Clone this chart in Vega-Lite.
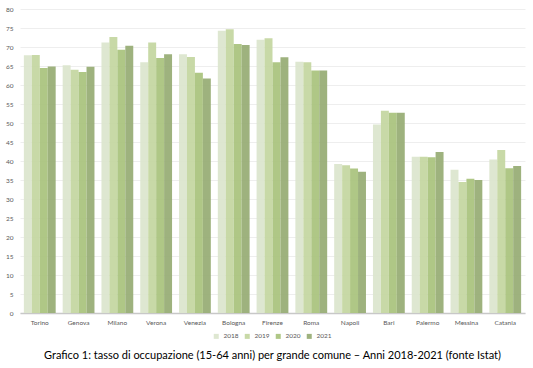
{
  "$schema": "https://vega.github.io/schema/vega-lite/v6.json",
  "width": 505,
  "height": 304,
  "autosize": {"type": "none"},
  "padding": {"left": 20, "top": 9, "right": 8, "bottom": 55},
  "background": "white",
  "data": {
    "values": [
      {"comune": "Torino", "anno": "2018", "v": 67.8}, {"comune": "Torino", "anno": "2019", "v": 67.9}, {"comune": "Torino", "anno": "2020", "v": 64.5}, {"comune": "Torino", "anno": "2021", "v": 64.9},
      {"comune": "Genova", "anno": "2018", "v": 65.2}, {"comune": "Genova", "anno": "2019", "v": 64.0}, {"comune": "Genova", "anno": "2020", "v": 63.4}, {"comune": "Genova", "anno": "2021", "v": 64.8},
      {"comune": "Milano", "anno": "2018", "v": 71.2}, {"comune": "Milano", "anno": "2019", "v": 72.6}, {"comune": "Milano", "anno": "2020", "v": 69.3}, {"comune": "Milano", "anno": "2021", "v": 70.3},
      {"comune": "Verona", "anno": "2018", "v": 66.0}, {"comune": "Verona", "anno": "2019", "v": 71.2}, {"comune": "Verona", "anno": "2020", "v": 67.1}, {"comune": "Verona", "anno": "2021", "v": 68.1},
      {"comune": "Venezia", "anno": "2018", "v": 68.1}, {"comune": "Venezia", "anno": "2019", "v": 67.4}, {"comune": "Venezia", "anno": "2020", "v": 63.2}, {"comune": "Venezia", "anno": "2021", "v": 61.7},
      {"comune": "Bologna", "anno": "2018", "v": 74.3}, {"comune": "Bologna", "anno": "2019", "v": 74.7}, {"comune": "Bologna", "anno": "2020", "v": 70.8}, {"comune": "Bologna", "anno": "2021", "v": 70.5},
      {"comune": "Firenze", "anno": "2018", "v": 71.9}, {"comune": "Firenze", "anno": "2019", "v": 72.3}, {"comune": "Firenze", "anno": "2020", "v": 66.0}, {"comune": "Firenze", "anno": "2021", "v": 67.3},
      {"comune": "Roma", "anno": "2018", "v": 66.1}, {"comune": "Roma", "anno": "2019", "v": 66.0}, {"comune": "Roma", "anno": "2020", "v": 63.8}, {"comune": "Roma", "anno": "2021", "v": 63.8},
      {"comune": "Napoli", "anno": "2018", "v": 39.2}, {"comune": "Napoli", "anno": "2019", "v": 38.9}, {"comune": "Napoli", "anno": "2020", "v": 38.0}, {"comune": "Napoli", "anno": "2021", "v": 37.2},
      {"comune": "Bari", "anno": "2018", "v": 49.6}, {"comune": "Bari", "anno": "2019", "v": 53.2}, {"comune": "Bari", "anno": "2020", "v": 52.7}, {"comune": "Bari", "anno": "2021", "v": 52.7},
      {"comune": "Palermo", "anno": "2018", "v": 41.1}, {"comune": "Palermo", "anno": "2019", "v": 41.1}, {"comune": "Palermo", "anno": "2020", "v": 41.0}, {"comune": "Palermo", "anno": "2021", "v": 42.4},
      {"comune": "Messina", "anno": "2018", "v": 37.7}, {"comune": "Messina", "anno": "2019", "v": 34.5}, {"comune": "Messina", "anno": "2020", "v": 35.3}, {"comune": "Messina", "anno": "2021", "v": 35.0},
      {"comune": "Catania", "anno": "2018", "v": 40.4}, {"comune": "Catania", "anno": "2019", "v": 42.9}, {"comune": "Catania", "anno": "2020", "v": 38.1}, {"comune": "Catania", "anno": "2021", "v": 38.7}
    ]
  },
  "title": {
    "text": "Grafico 1: tasso di occupazione (15-64 anni) per grande comune – Anni 2018-2021 (fonte Istat)",
    "orient": "bottom",
    "anchor": "middle",
    "font": "Lato",
    "fontSize": 11,
    "fontWeight": "normal",
    "color": "#000000",
    "offset": 10
  },
  "mark": {"type": "bar", "opacity": 0.92},
  "encoding": {
    "x": {
      "field": "comune",
      "type": "nominal",
      "sort": null,
      "scale": {"paddingInner": 0.18, "paddingOuter": 0.1},
      "axis": {"title": null, "labelAngle": 0, "ticks": false, "domainColor": "#c8c8c8", "domainWidth": 1.5, "labelPadding": 6}
    },
    "xOffset": {"field": "anno", "type": "nominal", "scale": {"paddingInner": 0}},
    "y": {
      "field": "v",
      "type": "quantitative",
      "scale": {"domain": [0, 80], "nice": false},
      "axis": {"title": null, "values": [0,5,10,15,20,25,30,35,40,45,50,55,60,65,70,75,80], "domain": false, "ticks": false, "gridColor": "#eeeeee", "labelPadding": 7}
    },
    "color": {
      "field": "anno",
      "type": "nominal",
      "scale": {"range": ["#dbe5cd", "#c3d69f", "#a8c27c", "#96ab73"]},
      "legend": {"title": null, "orient": "bottom", "direction": "horizontal", "symbolType": "square", "symbolSize": 25, "labelFontSize": 6.5, "labelColor": "#595959", "columnPadding": 5, "offset": 7, "symbolStrokeWidth": 0}
    }
  },
  "config": {
    "font": "Lato",
    "view": {"stroke": null},
    "axis": {"labelFont": "Lato", "labelFontSize": 6.5, "labelColor": "#595959"},
    "legend": {"labelFont": "Lato", "layout": {"bottom": {"anchor": "middle"}}}
  }
}
